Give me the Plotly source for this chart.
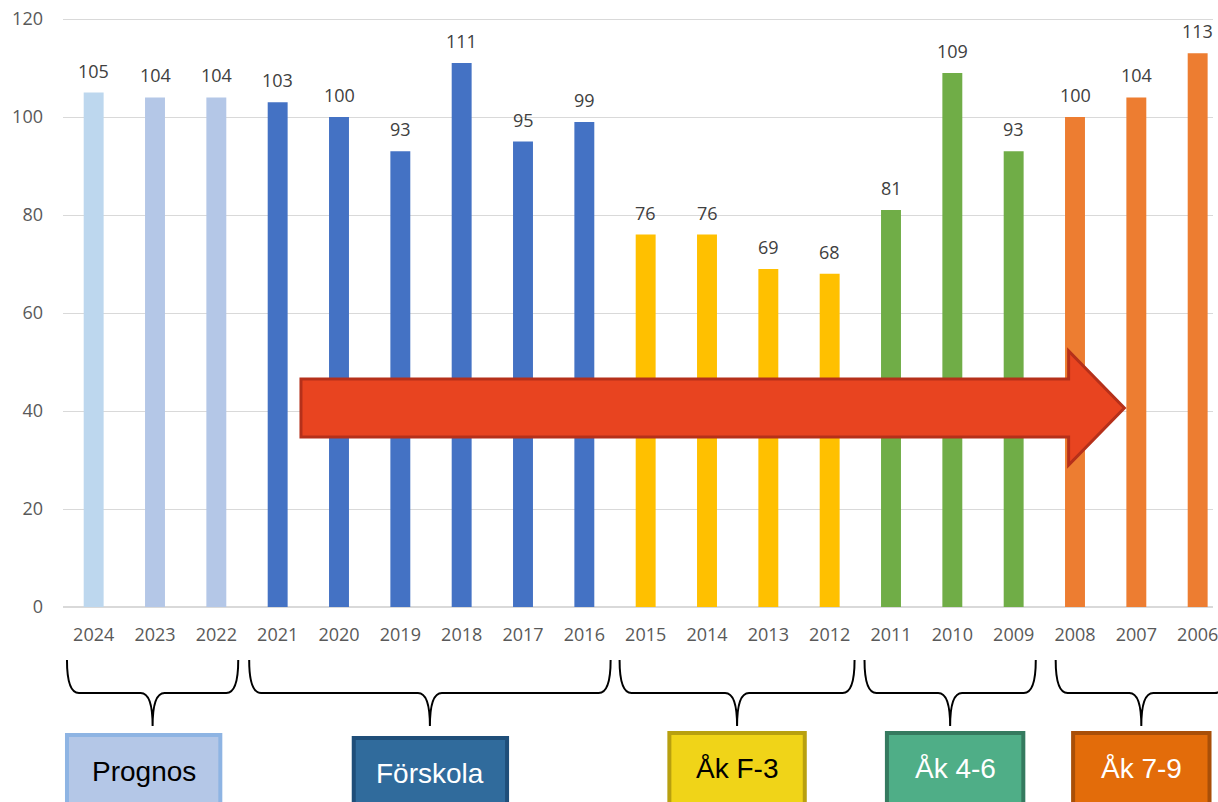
import plotly.graph_objects as go

# data
years = ["2024", "2023", "2022", "2021", "2020", "2019", "2018", "2017", "2016",
         "2015", "2014", "2013", "2012", "2011", "2010", "2009", "2008", "2007", "2006"]
counts = [105, 104, 104, 103, 100, 93, 111, 95, 99,
          76, 76, 69, 68, 81, 109, 93, 100, 104, 113]
bar_colors = ["#BDD7EE", "#B4C7E7", "#B4C7E7"] + ["#4472C4"] * 6 + ["#FFC000"] * 4 \
    + ["#70AD47"] * 3 + ["#ED7D31"] * 3

# groups: label, fill, border, text colour
groups = [
    ("Prognos", "#B4C7E7", "#8EB4E3", "black"),
    ("Förskola", "#306B9C", "#1F4E79", "white"),
    ("Åk F-3", "#F0D418", "#B8A00F", "black"),
    ("Åk 4-6", "#4FAE87", "#357A5F", "white"),
    ("Åk 7-9", "#E36C0A", "#A94F08", "white"),
]
# brace ends and label boxes, in pixels
brace_lr = [(67, 239), (250, 613), (622, 858), (868, 1040), (1060, 1232)]
box_cx = [144, 432, 740, 959, 1146]
box_w = [154, 154, 136, 137, 137]
box_top = [735, 738, 733, 733, 733]

W, H = 1218, 802
L, T, B = 63, 17, 195
x_range = [-0.5, 18.25]
pw = W - L
ph = H - T - B
y_top = 120 * ph / 588      # keep 98px per 20 units, 120 line just inside the top


def fx(px):
    return (px - L) / pw


def fy(py):
    return (H - B - py) / ph


def path(pts, closed=False):
    s = ""
    for cmd, pt in pts:
        s += cmd + " " + " ".join(f"{fx(p[0]):.5f},{fy(p[1]):.5f}" for p in pt) + " "
    return s + ("Z" if closed else "")


fig = go.Figure(go.Bar(
    x=years, y=counts,
    marker=dict(color=bar_colors, line=dict(width=0)),
    hoverinfo="x+y",
))

annotations = []
# value labels (x as category index, since the year strings look numeric)
for i, c in enumerate(counts):
    annotations.append(dict(x=i, y=c, xref="x", yref="y", text=str(c), showarrow=False,
                            xanchor="center", yanchor="bottom", yshift=8,
                            font=dict(family="Open Sans", size=18, color="#404040")))

shapes = []
# arrow
ax0, ax1, atip = 302, 1073, 1129
ay, sh, hh = 408, 29, 57
arrow = path([("M", [(ax0, ay - sh)]), ("L", [(ax1, ay - sh)]), ("L", [(ax1, ay - hh)]),
              ("L", [(atip, ay)]), ("L", [(ax1, ay + hh)]), ("L", [(ax1, ay + sh)]),
              ("L", [(ax0, ay + sh)])], closed=True)
shapes.append(dict(type="path", xref="paper", yref="paper", path=arrow,
                   fillcolor="#E84420", line=dict(color="#B5301A", width=3)))

y0, y1, y2 = 660, 693, 726
for (label, fill, border, tc), (xl, xr), cx, bw, bt in zip(groups, brace_lr, box_cx, box_w, box_top):
    xc = (xl + xr) / 2
    r = 12
    brace = path([("M", [(xl, y0)]), ("Q", [(xl, y1), (xl + r, y1)]), ("L", [(xc - r, y1)]),
                  ("Q", [(xc, y1), (xc, y2)]), ("M", [(xc, y2)]), ("Q", [(xc, y1), (xc + r, y1)]),
                  ("L", [(xr - r, y1)]), ("Q", [(xr, y1), (xr, y0)])])
    shapes.append(dict(type="path", xref="paper", yref="paper", path=brace,
                       line=dict(color="black", width=2)))
    shapes.append(dict(type="rect", xref="paper", yref="paper",
                       x0=fx(cx - bw / 2), x1=fx(cx + bw / 2), y0=fy(bt), y1=fy(820),
                       fillcolor=fill, line=dict(color=border, width=4)))
    annotations.append(dict(xref="paper", yref="paper", x=fx(cx), y=fy(bt + 36),
                            text=label, showarrow=False, xanchor="center", yanchor="middle",
                            font=dict(family="Liberation Sans", size=28, color=tc)))

fig.update_layout(
    width=W, height=H, autosize=False,
    margin=dict(l=L, r=0, t=T, b=B, pad=0),
    paper_bgcolor="white", plot_bgcolor="white",
    showlegend=False, bargap=0.675,
    shapes=shapes, annotations=annotations,
    font=dict(family="Open Sans", size=18, color="#595959"),
)
fig.update_xaxes(type="category", range=x_range, showgrid=False, showline=False,
                 ticks="", ticklabelstandoff=15, tickfont=dict(size=18, color="#595959"))
fig.update_yaxes(range=[0, y_top], tickvals=[0, 20, 40, 60, 80, 100, 120],
                 ticklabeloverflow="allow",
                 showgrid=True, gridcolor="#D9D9D9", gridwidth=1,
                 zeroline=True, zerolinecolor="#D9D9D9", zerolinewidth=1.5, showline=False,
                 ticks="", ticklabelstandoff=19, tickfont=dict(size=18, color="#595959"))

fig.write_html("out.html", config={"displayModeBar": False},
               post_script="document.body.style.margin='0';document.body.style.overflow='hidden';")
